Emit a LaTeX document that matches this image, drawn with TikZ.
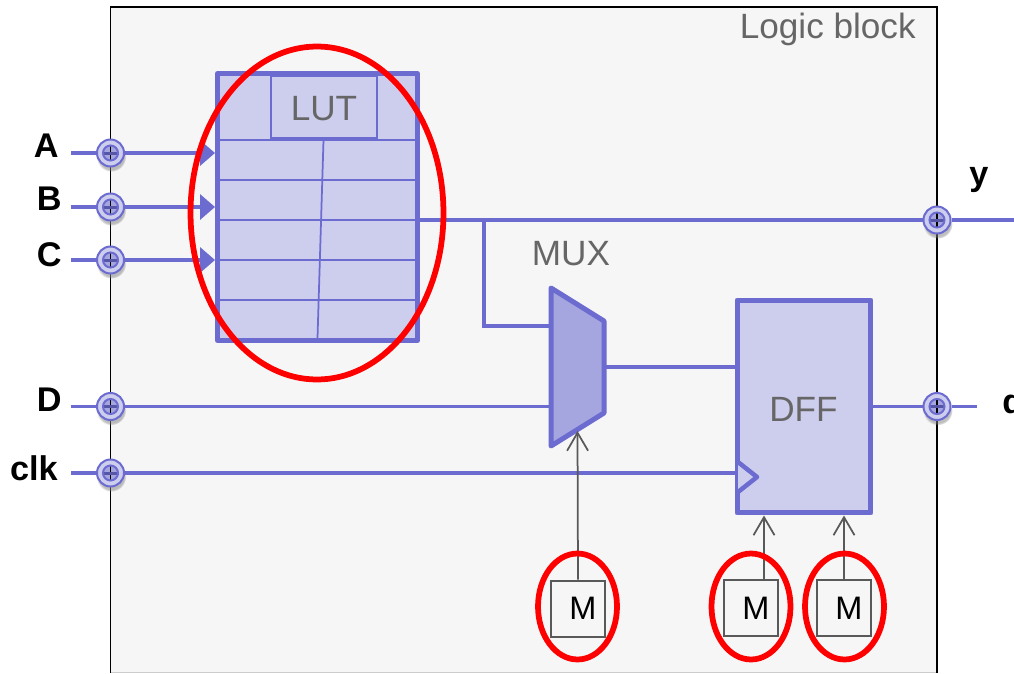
\documentclass[tikz,border=0pt]{standalone}
\usepackage{fontspec}
\setmainfont{Liberation Sans}
\usepackage{tikz}
\usetikzlibrary{shapes.geometric,arrows.meta,positioning,calc,shadows,backgrounds}
\definecolor{wire}{RGB}{107,107,208}
\definecolor{cell}{RGB}{205,205,238}
\definecolor{muxfill}{RGB}{165,165,224}
\definecolor{blockbg}{RGB}{246,246,246}
\definecolor{captxt}{RGB}{102,102,102}
\definecolor{cfgline}{RGB}{89,89,89}

\begin{document}
\begin{tikzpicture}[
    x=0.02cm, y=-0.02cm,
    every node/.style={font=\fontsize{20}{24}\selectfont, inner sep=0pt},
    unit/.style={rectangle, draw=wire, line width=0.1cm, fill=cell, line join=round},
    lbl/.style={text=captxt},
    lutline/.style={draw=wire, line width=0.035cm},
    port/.style={circle, draw=wire, line width=0.04cm, fill=cell, minimum size=0.54cm,
                 circular drop shadow={shadow xshift=0.4pt, shadow yshift=-2pt, opacity=0.5, shadow scale=1.1},
                 path picture={
                   \fill[muxfill] (path picture bounding box.center) circle (0.15cm);
                   \draw[black, line width=0.025cm] ($(path picture bounding box.center)+(0,-8)$) -- ($(path picture bounding box.center)+(0,8)$);
                   \draw[wire!80!black, line width=0.06cm] ($(path picture bounding box.center)+(-8,0)$) -- ($(path picture bounding box.center)+(8,0)$);
                   \draw[wire, line width=0.04cm] (path picture bounding box.center) circle (0.15cm);
                 }},
    pinname/.style={font=\fontsize{19.5}{23}\selectfont\bfseries},
    arr/.style={draw=wire, line width=0.07cm},
    inarr/.style={arr, -{Triangle[length=0.3cm, width=0.5cm]}},
    cfg/.style={rectangle, draw=cfgline, line width=0.04cm, fill=blockbg, minimum width=1.08cm,
                minimum height=1.12cm, font=\fontsize{18.5}{22}\selectfont,
                execute at begin node=\kern0.2cm},
    cfgarr/.style={draw=cfgline, line width=0.035cm, -{Straight Barb[length=0.36cm, width=0.42cm]}},
    ring/.style={ellipse, draw=red, line width=0.115cm},
]
\useasboundingbox (0,0) rectangle (1014,673);
\clip (0,0) rectangle (1014,673);

% Main blocks
\node[unit, minimum width=4cm, minimum height=5.34cm] (lut) at (317.5,207) {};
\node[unit, minimum width=2.68cm, minimum height=4.26cm] (dff) at (804,406.5) {};
\node[lbl] (dfflbl) at (803.5,409) {DFF};
\node[lbl] (muxlbl) at (571,254) {MUX};

% LUT rows and title box
\foreach \y in {140,180,220,260,300}
  \draw[lutline] (lut.west |- 0,\y) -- (lut.east |- 0,\y);
\draw[lutline] (323.5,140) -- (317.5,338);
\node[rectangle, lutline, fill=cell, minimum width=2.12cm, minimum height=1.24cm,
      text height=0.54cm, text depth=0cm, lbl] (luttitle) at (324,107) {LUT};

% Mux and clock mark
\coordinate (muxa) at (551,326);
\coordinate (muxb) at (551,406.5);
\coordinate (muxo) at (604,367);
\draw[arr, line width=0.1cm, fill=muxfill, line join=round]
  (551,288) -- (604,321) -- (604,413) -- (551,446) -- cycle;
\draw[arr, line width=0.09cm, fill=cell, line join=round]
  (738,462) -- (757,477) -- (738,492);

% Ports
\node[port] (porta) at (110.5,153) {};
\node[port] (portb) at (110.5,207) {};
\node[port] (portc) at (110.5,260) {};
\node[port] (portd) at (110.5,406.5) {};
\node[port] (portk) at (110.5,473) {};
\node[port] (porty) at (937,220) {};
\node[port] (portq) at (937,406.5) {};

% Pin names
\node[pinname, left=0.74cm of porta, yshift=0.14cm] (namea) {A};
\node[pinname, left=0.68cm of portb, yshift=0.16cm] (nameb) {B};
\node[pinname, left=0.68cm of portc, yshift=0.10cm] (namec) {C};
\node[pinname, left=0.68cm of portd, yshift=0.14cm] (named) {D};
\node[pinname, left=0.76cm of portk, yshift=0.10cm] (namek) {clk};
\node[pinname] (namey) at (979,180) {y};
\node[pinname, anchor=west] (nameq) at (1002,408) {q};

% Config cells
\node[cfg] (cfgmux) at (578,608.5) {M};
\node[cfg] (cfgset) at (751,608) {M};
\node[cfg] (cfgrst) at (844,608) {M};

% Free wire ends
\coordinate (ina) at (71,153);
\coordinate (inb) at (71,207);
\coordinate (inc) at (71,260);
\coordinate (ind) at (71,406.5);
\coordinate (ink) at (71,473);
\coordinate (outy) at (1014,220);
\coordinate (outq) at (977,406.5);
\coordinate (tap) at (484,220);
\coordinate (clkin) at (738,473);

\begin{scope}[on background layer]
  \fill[blockbg] (110.5,7) rectangle (937,673);
  \draw[gray!40] (110.5,672.5) -- (937,672.5);
  \draw[black, line width=0.025cm] (110.5,673) -- (110.5,7) -- (937,7) -- (937,673);
  % Wires
  \draw[arr] (ina) -- (porta);
  \draw[arr] (inb) -- (portb);
  \draw[arr] (inc) -- (portc);
  \draw[inarr] (porta) -- (lut.west |- porta);
  \draw[inarr] (portb) -- (lut.west |- portb);
  \draw[inarr] (portc) -- (lut.west |- portc);
  \draw[arr] (ind) -- (portd);
  \draw[arr] (portd) -- (muxb);
  \draw[arr] (ink) -- (portk);
  \draw[arr] (portk) -- (clkin);
  \draw[arr] (lut.east |- porty) -- (porty);
  \draw[arr] (porty) -- (outy);
  \draw[arr] (tap) |- (muxa);
  \draw[arr] (muxo) -- (dff.west |- muxo);
  \draw[arr] (dff.east |- portq) -- (portq);
  \draw[arr] (portq) -- (outq);
\end{scope}

% Config arrows
\coordinate (seltap) at ($(cfgset.north)+(13,0)$);
\draw[cfgarr] (cfgmux.north) -- (577.5,431);
\draw[cfgarr] (seltap) -- (seltap |- dff.south);
\draw[cfgarr] (cfgrst.north) -- (cfgrst.north |- dff.south);

% Highlights
\node[ring, minimum width=5.06cm, minimum height=6.66cm] (hlut) at (317,213) {};
\node[ring, minimum width=1.58cm, minimum height=2.12cm] (hmux) at (577.5,606.5) {};
\node[ring, minimum width=1.58cm, minimum height=2.12cm] (hset) at (751,606.5) {};
\node[ring, minimum width=1.58cm, minimum height=2.12cm] (hrst) at (844.5,606.5) {};

\node[lbl, anchor=north east] (title) at (916,13) {Logic block};
\end{tikzpicture}
\end{document}
